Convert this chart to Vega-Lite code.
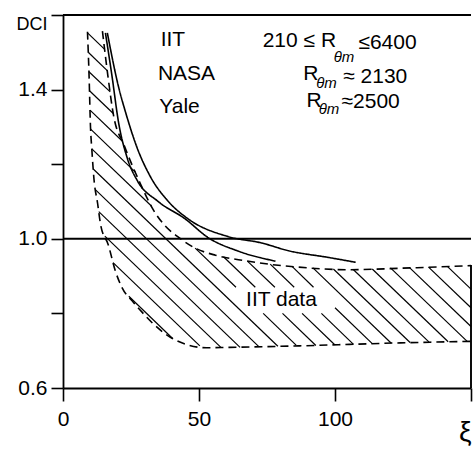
{
  "$schema": "https://vega.github.io/schema/vega-lite/v6.json",
  "width": 408,
  "height": 373,
  "autosize": {"type": "none"},
  "padding": {"left": 63, "top": 15, "right": 2, "bottom": 63},
  "background": "white",
  "view": {"stroke": null},
  "config": {"font": "Liberation Sans"},
  "datasets": {
    "hatch": [
      {"x": 24.2, "y": 0.846, "x2": 40.4, "y2": 0.732},
      {"x": 18.4, "y": 0.936, "x2": 50.3, "y2": 0.713},
      {"x": 15.38, "y": 1.007, "x2": 58.06, "y2": 0.709},
      {"x": 13.15, "y": 1.073, "x2": 65.1, "y2": 0.709},
      {"x": 11.98, "y": 1.131, "x2": 72.0, "y2": 0.711},
      {"x": 11.12, "y": 1.187, "x2": 79.0, "y2": 0.712},
      {"x": 10.59, "y": 1.241, "x2": 32.5, "y2": 1.088},
      {"x": 48.6, "y": 0.975, "x2": 63.6, "y2": 0.87},
      {"x": 73.6, "y": 0.8, "x2": 85.7, "y2": 0.715},
      {"x": 10.16, "y": 1.294, "x2": 26.7, "y2": 1.178},
      {"x": 59.0, "y": 0.952, "x2": 70.7, "y2": 0.87},
      {"x": 80.7, "y": 0.8, "x2": 92.96, "y2": 0.714},
      {"x": 9.93, "y": 1.345, "x2": 21.95, "y2": 1.261},
      {"x": 67.8, "y": 0.94, "x2": 77.9, "y2": 0.87},
      {"x": 87.9, "y": 0.8, "x2": 99.9, "y2": 0.716},
      {"x": 9.74, "y": 1.397, "x2": 18.49, "y2": 1.336},
      {"x": 76.2, "y": 0.932, "x2": 85.0, "y2": 0.87},
      {"x": 95.0, "y": 0.8, "x2": 106.8, "y2": 0.717},
      {"x": 9.53, "y": 1.448, "x2": 17.36, "y2": 1.394},
      {"x": 84.2, "y": 0.926, "x2": 92.1, "y2": 0.87},
      {"x": 100.0, "y": 0.815, "x2": 113.7, "y2": 0.719},
      {"x": 9.27, "y": 1.5, "x2": 16.27, "y2": 1.451},
      {"x": 91.9, "y": 0.922, "x2": 120.7, "y2": 0.72},
      {"x": 9.02, "y": 1.552, "x2": 15.33, "y2": 1.508},
      {"x": 99.4, "y": 0.919, "x2": 127.6, "y2": 0.722},
      {"x": 106.8, "y": 0.917, "x2": 134.6, "y2": 0.723},
      {"x": 113.7, "y": 0.919, "x2": 141.6, "y2": 0.724},
      {"x": 120.4, "y": 0.922, "x2": 148.6, "y2": 0.725},
      {"x": 127.5, "y": 0.922, "x2": 150, "y2": 0.765},
      {"x": 134.4, "y": 0.924, "x2": 150, "y2": 0.815},
      {"x": 141.3, "y": 0.926, "x2": 150, "y2": 0.865}
    ],
    "frame": [
      {"x": 0, "y": 1.0, "x2": 150, "y2": 1.0},
      {"x": 0, "y": 1.6, "x2": 150, "y2": 1.6},
      {"x": 150, "y": 0.6, "x2": 150, "y2": 0.93}
    ],
    "curves": [
      {"s": "IIT lower", "x": 9.0, "y": 1.555},
      {"s": "IIT lower", "x": 9.6, "y": 1.434},
      {"s": "IIT lower", "x": 10.1, "y": 1.301},
      {"s": "IIT lower", "x": 10.6, "y": 1.24},
      {"s": "IIT lower", "x": 11.4, "y": 1.159},
      {"s": "IIT lower", "x": 12.7, "y": 1.096},
      {"s": "IIT lower", "x": 13.9, "y": 1.035},
      {"s": "IIT lower", "x": 16.6, "y": 0.985},
      {"s": "IIT lower", "x": 19.2, "y": 0.915},
      {"s": "IIT lower", "x": 21.7, "y": 0.869},
      {"s": "IIT lower", "x": 25.5, "y": 0.833},
      {"s": "IIT lower", "x": 28.0, "y": 0.812},
      {"s": "IIT lower", "x": 32.9, "y": 0.774},
      {"s": "IIT lower", "x": 40.4, "y": 0.732},
      {"s": "IIT lower", "x": 52.7, "y": 0.708},
      {"s": "IIT lower", "x": 61.3, "y": 0.709},
      {"s": "IIT lower", "x": 87, "y": 0.713},
      {"s": "IIT lower", "x": 124, "y": 0.721},
      {"s": "IIT lower", "x": 150, "y": 0.725},
      {"s": "IIT upper", "x": 14.5, "y": 1.557},
      {"s": "IIT upper", "x": 16.5, "y": 1.437},
      {"s": "IIT upper", "x": 18.6, "y": 1.33},
      {"s": "IIT upper", "x": 22.4, "y": 1.252},
      {"s": "IIT upper", "x": 28.5, "y": 1.147},
      {"s": "IIT upper", "x": 33.0, "y": 1.08},
      {"s": "IIT upper", "x": 37.5, "y": 1.035},
      {"s": "IIT upper", "x": 42.3, "y": 1.005},
      {"s": "IIT upper", "x": 48.6, "y": 0.975},
      {"s": "IIT upper", "x": 56.0, "y": 0.956},
      {"s": "IIT upper", "x": 67.1, "y": 0.941},
      {"s": "IIT upper", "x": 76.7, "y": 0.931},
      {"s": "IIT upper", "x": 86.6, "y": 0.924},
      {"s": "IIT upper", "x": 105, "y": 0.917},
      {"s": "IIT upper", "x": 123.8, "y": 0.921},
      {"s": "IIT upper", "x": 150, "y": 0.928},
      {"s": "NASA", "x": 16.3, "y": 1.552},
      {"s": "NASA", "x": 20.3, "y": 1.411},
      {"s": "NASA", "x": 23.3, "y": 1.332},
      {"s": "NASA", "x": 27.2, "y": 1.245},
      {"s": "NASA", "x": 32.1, "y": 1.167},
      {"s": "NASA", "x": 38.5, "y": 1.102},
      {"s": "NASA", "x": 45.9, "y": 1.054},
      {"s": "NASA", "x": 60.7, "y": 1.006},
      {"s": "NASA", "x": 72.9, "y": 0.989},
      {"s": "NASA", "x": 82.9, "y": 0.968},
      {"s": "NASA", "x": 97.6, "y": 0.95},
      {"s": "NASA", "x": 107.6, "y": 0.937},
      {"s": "Yale", "x": 15.6, "y": 1.552},
      {"s": "Yale", "x": 18.0, "y": 1.437},
      {"s": "Yale", "x": 20.4, "y": 1.313},
      {"s": "Yale", "x": 23.6, "y": 1.217},
      {"s": "Yale", "x": 27.4, "y": 1.155},
      {"s": "Yale", "x": 34.8, "y": 1.101},
      {"s": "Yale", "x": 44.8, "y": 1.054},
      {"s": "Yale", "x": 53.4, "y": 1.003},
      {"s": "Yale", "x": 64.4, "y": 0.967},
      {"s": "Yale", "x": 78.1, "y": 0.94}
    ],
    "notes": [
      {"t": "IIT", "x": 35.9, "y": 1.532},
      {"t": "NASA", "x": 34.9, "y": 1.441},
      {"t": "Yale", "x": 35.4, "y": 1.353},
      {"t": "210 ≤ R", "x": 73.4, "y": 1.529},
      {"t": "≤6400", "x": 108.6, "y": 1.526},
      {"t": "R", "x": 88.3, "y": 1.441},
      {"t": "≈ 2130", "x": 103.0, "y": 1.433},
      {"t": "R", "x": 89.5, "y": 1.369},
      {"t": "≈2500", "x": 102.4, "y": 1.368},
      {"t": "IIT data", "x": 67.3, "y": 0.837}
    ],
    "subs": [
      {"t": "θm", "x": 99.5, "y": 1.487},
      {"t": "θm", "x": 93.1, "y": 1.419},
      {"t": "θm", "x": 94.0, "y": 1.347}
    ]
  },
  "layer": [
    {
      "data": {"name": "hatch"},
      "mark": {"type": "rule", "stroke": "black", "strokeWidth": 1.2},
      "encoding": {
        "x": {
          "field": "x", "type": "quantitative",
          "scale": {"domain": [0, 150], "nice": false, "zero": false},
          "axis": {
            "values": [0, 50, 100, 150],
            "labelExpr": "datum.value == 150 ? 'ξ' : datum.label",
            "title": null, "grid": false, "labelFlush": false,
            "domainColor": "black", "domainWidth": 1.8,
            "tickColor": "black", "tickWidth": 1.6, "tickSize": 13,
            "labelColor": "black",
            "labelFontSize": {"condition": {"test": "datum.value == 150", "value": 28}, "value": 21},
            "labelAlign": {"condition": {"test": "datum.value == 150", "value": "right"}, "value": "center"},
            "labelPadding": {"condition": {"test": "datum.value == 150", "value": 17}, "value": 7}
          }
        },
        "y": {
          "field": "y", "type": "quantitative",
          "scale": {"domain": [0.6, 1.6], "nice": false, "zero": false},
          "axis": {
            "values": [0.6, 0.8, 1.0, 1.2, 1.4, 1.6],
            "format": ".1f",
            "labelExpr": "datum.value > 1.55 ? 'DCI' : (abs(datum.value - 0.8) < 0.01 || abs(datum.value - 1.2) < 0.01) ? '' : datum.label",
            "title": null, "grid": false,
            "domainColor": "black", "domainWidth": 1.8,
            "tickColor": "black", "tickWidth": 1.6, "tickSize": 12,
            "labelColor": "black",
            "labelFontSize": {"condition": {"test": "datum.value > 1.55", "value": 18}, "value": 21},
            "labelBaseline": {"condition": {"test": "datum.value > 1.55", "value": "top"}, "value": "middle"},
            "labelPadding": 4
          }
        },
        "x2": {"field": "x2"},
        "y2": {"field": "y2"}
      }
    },
    {
      "data": {"name": "frame"},
      "mark": {"type": "rule", "stroke": "black", "strokeWidth": 1.9},
      "encoding": {
        "x": {"field": "x", "type": "quantitative"},
        "y": {"field": "y", "type": "quantitative"},
        "x2": {"field": "x2"},
        "y2": {"field": "y2"}
      }
    },
    {
      "data": {"name": "curves"},
      "mark": {"type": "line", "stroke": "black", "strokeWidth": 1.6, "interpolate": "monotone"},
      "encoding": {
        "x": {"field": "x", "type": "quantitative"},
        "y": {"field": "y", "type": "quantitative"},
        "detail": {"field": "s"},
        "strokeDash": {
          "field": "s", "type": "nominal", "legend": null,
          "scale": {"domain": ["IIT lower", "IIT upper", "NASA", "Yale"], "range": [[8, 5], [8, 5], [1, 0], [1, 0]]}
        }
      }
    },
    {
      "data": {"name": "notes"},
      "mark": {"type": "text", "align": "left", "baseline": "middle", "fontSize": 21, "color": "black"},
      "encoding": {
        "x": {"field": "x", "type": "quantitative"},
        "y": {"field": "y", "type": "quantitative"},
        "text": {"field": "t"}
      }
    },
    {
      "data": {"name": "subs"},
      "mark": {"type": "text", "align": "left", "baseline": "middle", "fontSize": 15, "fontStyle": "italic", "color": "black"},
      "encoding": {
        "x": {"field": "x", "type": "quantitative"},
        "y": {"field": "y", "type": "quantitative"},
        "text": {"field": "t"}
      }
    }
  ]
}
